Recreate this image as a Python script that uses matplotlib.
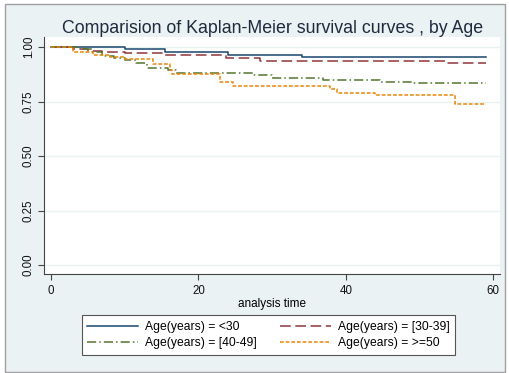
import matplotlib
matplotlib.use("Agg")
import matplotlib.pyplot as plt
from matplotlib.patches import Rectangle

plt.rcParams['font.family'] = ['Liberation Sans', 'DejaVu Sans']

# ---- data (step curves) ----
t_lt30 = [0, 10.0, 15.5, 24.0, 34.1, 59.0]
s_lt30 = [1.0, 0.991, 0.976, 0.965, 0.953, 0.953]

t_30_39 = [0, 3.0, 5.0, 6.9, 10.0, 15.2, 23.8, 28.4, 53.7, 59.0]
s_30_39 = [1.0, 0.990, 0.983, 0.976, 0.971, 0.963, 0.948, 0.937, 0.925, 0.925]

t_40_49 = [0, 4.0, 5.7, 6.9, 8.5, 10.0, 11.5, 13.0, 15.9, 17.0, 27.4, 30.0, 36.9, 44.6, 49.1, 59.0]
s_40_49 = [1.0, 0.990, 0.975, 0.960, 0.950, 0.940, 0.925, 0.906, 0.894, 0.883, 0.872, 0.860, 0.848, 0.840, 0.833, 0.833]

t_ge50 = [0, 3.0, 5.7, 8.0, 10.0, 13.9, 16.1, 16.4, 22.9, 24.7, 37.9, 38.8, 44.0, 54.8, 59.0]
s_ge50 = [1.0, 0.976, 0.963, 0.955, 0.945, 0.922, 0.896, 0.876, 0.840, 0.822, 0.806, 0.791, 0.779, 0.737, 0.737]

labels = ["Age(years) = <30", "Age(years) = [30-39]",
          "Age(years) = [40-49]", "Age(years) = >=50"]
x_ticks = [0, 20, 40, 60]
y_ticks = [0.00, 0.25, 0.50, 0.75, 1.00]

BG = '#eaf2f3'
fig = plt.figure(figsize=(5.10, 3.73), dpi=100)
fig.patch.set_facecolor('white')
W, H = 510, 373
# outer graph region with frame
fig.patches.append(Rectangle((5 / W, 1 - 372 / H), 500 / W, 368 / H,
                             transform=fig.transFigure, facecolor=BG,
                             edgecolor='#a0a0a0', linewidth=1.0, zorder=-5))

ax = fig.add_axes([44 / W, 1 - 274 / H, 456 / W, 237 / H])
ax.set_zorder(2)
ax.set_facecolor('white')
ax.set_xlim(-0.95, 60.9)
ax.set_ylim(-0.041, 1.046)

ax.step(t_lt30, s_lt30, where='post', color='#1a476f', lw=1.1, label=labels[0])
ax.step(t_30_39, s_30_39, where='post', color='#90353b', lw=1.1,
        dashes=(7, 3), label=labels[1])
ax.step(t_40_49, s_40_49, where='post', color='#55752f', lw=1.1,
        dashes=(6, 2, 1, 2), label=labels[2])
ax.step(t_ge50, s_ge50, where='post', color='#e8880a', lw=1.1,
        dashes=(2.5, 1.2), label=labels[3])

ax.set_xticks(x_ticks)
ax.set_xticklabels([str(v) for v in x_ticks])
ax.set_yticks(y_ticks)
ax.set_yticklabels([f"{v:.2f}" for v in y_ticks], rotation=90, va='center')
ax.tick_params(axis='both', labelsize=8.3, colors='#444444', length=4.5,
               width=0.8, labelcolor='#111111')
ax.tick_params(axis='y', pad=2)
ax.grid(axis='y', color='#eaf2f3', lw=1.0)
ax.grid(axis='x', visible=False)
ax.set_axisbelow(True)
for s in ['top', 'right']:
    ax.spines[s].set_visible(False)
for s in ['left', 'bottom']:
    ax.spines[s].set_color('#444444')
    ax.spines[s].set_linewidth(0.8)

ax.set_xlabel("analysis time", fontsize=8.5, labelpad=1)
fig.text(273 / W, 1 - 33 / H, "Comparision of Kaplan-Meier survival curves , by Age",
         ha='center', va='baseline', fontsize=12.8, color='#1e2a3e')

h, l = ax.get_legend_handles_labels()
order = [0, 2, 1, 3]
leg = fig.legend([h[i] for i in order], [l[i] for i in order], loc='center',
                 bbox_to_anchor=(268.5 / W, 1 - 335 / H),
                 ncol=2, fontsize=8.7, frameon=True, fancybox=False,
                 edgecolor='#555555', framealpha=1, handlelength=4.2,
                 columnspacing=1.9, handletextpad=0.6, labelspacing=0.35,
                 borderpad=0.45)
leg.get_frame().set_linewidth(0.8)
leg.set_zorder(3)

fig.savefig("out.png", dpi=100, facecolor=fig.get_facecolor())
